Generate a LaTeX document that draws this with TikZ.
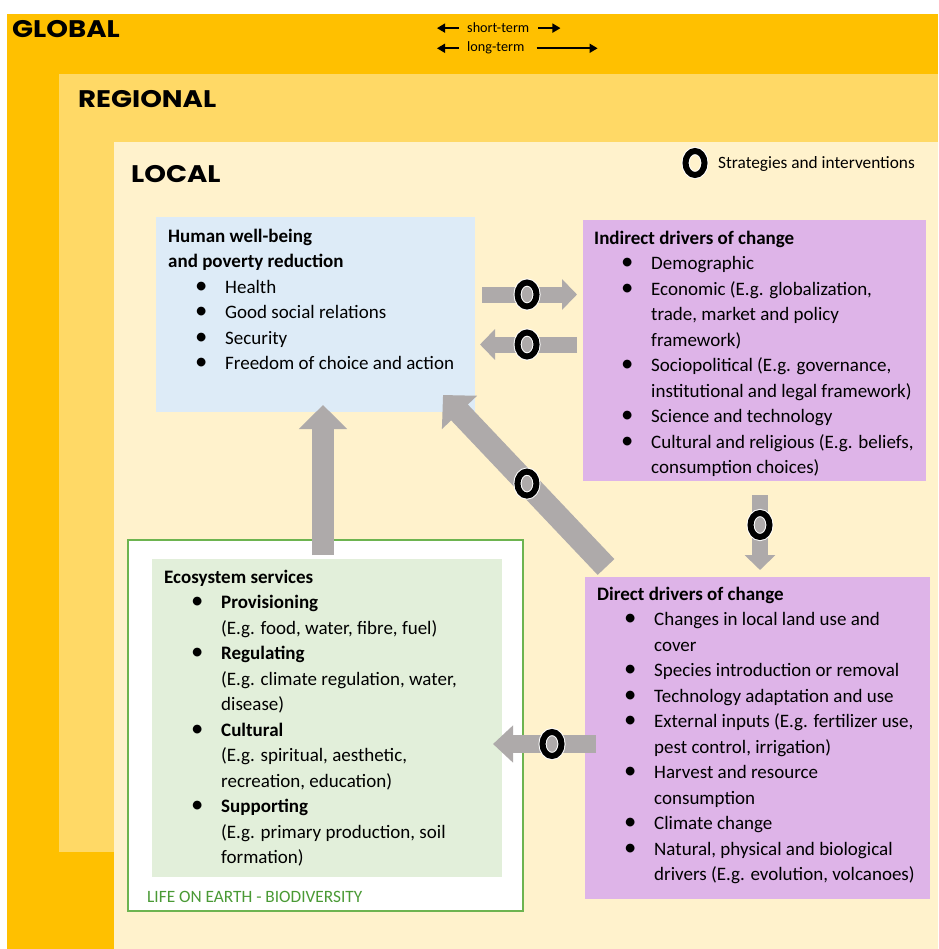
\documentclass[tikz,border=0pt]{standalone}
\usepackage{fontspec}
\setmainfont{Carlito}
\newfontfamily\headfont{Poppins}[FakeStretch=1.15]
\usetikzlibrary{arrows.meta}
\usetikzlibrary{calc}

\definecolor{globalc}{HTML}{FFC000}
\definecolor{regionalc}{HTML}{FFD966}
\definecolor{localc}{HTML}{FFF2CC}
\definecolor{wellblue}{HTML}{DDEBF7}
\definecolor{drvpurple}{HTML}{DEB4E8}
\definecolor{ecogreen}{HTML}{E2EFDA}
\definecolor{lifegreen}{HTML}{6DB450}
\definecolor{lifetext}{HTML}{4A9A35}
\definecolor{arrowgray}{HTML}{AEAAAA}

\newcommand{\bitem}{\hspace*{33pt}\makebox[0pt]{\scalebox{1.3}{\textbullet}}\hspace*{24pt}}
\newcommand{\bcont}{\hspace*{57pt}}
\newcommand{\stratring}[1]{%
  \draw[white,line width=8pt] #1 ellipse [x radius=9.5pt,y radius=12pt];
  \draw[black,line width=6pt] #1 ellipse [x radius=9.5pt,y radius=12pt];}

\tikzset{
  box/.style={anchor=north west, inner sep=0pt, outer sep=0pt},
  % multi-line texts are placed by the baseline of their last line
  txt/.style={anchor=base west, align=left, inner sep=0pt, font=\fontsize{19}{25.5}\selectfont},
  labeltxt/.style={anchor=base west, inner sep=0pt, font=\fontsize{17.3}{20}\selectfont},
  smalltxt/.style={anchor=base west, inner sep=0pt, font=\fontsize{14.2}{16}\selectfont},
  levelhead/.style={anchor=base west, inner sep=0pt, font=\headfont\bfseries\fontsize{24}{24}\selectfont},
  sarrow/.style={draw=arrowgray, line width=16pt, -{Triangle[length=15pt,width=30pt]}},
  barrow/.style={draw=arrowgray, line width=22pt, -{Triangle[length=24pt,width=47pt]}},
  tarrow/.style={line width=1.6pt, -{Triangle[length=8pt,width=9pt]}}
}

\begin{document}
\begin{tikzpicture}[x=1pt,y=-1pt]
\useasboundingbox (0,0) rectangle (938,949);
% The three levels
\fill[white] (0,0) rectangle (938,949);
\fill[globalc] (7,14) rectangle (938,949);
\fill[regionalc] (59,74) rectangle (938,852);
\fill[localc] (114,142) rectangle (938,949);
\node[levelhead] (glob) at (12,38) {GLOBAL};
\node[levelhead] (reg) at (78,108) {REGIONAL};
\node[levelhead] (loc) at (131,183) {LOCAL};

% Time scales
\node[smalltxt] (st) at (467,33) {short-term};
\node[smalltxt] (lt) at (467,52) {long-term};
\draw[tarrow] ([shift={(-8,0)}]st.west) -- ++(-22,0);
\draw[tarrow] ([shift={(9,0)}]st.east) -- ++(22,0);
\draw[tarrow] ([shift={(-8,0)}]lt.west) -- ++(-22,0);
\draw[tarrow] ([shift={(12,0)}]lt.east) -- ++(61,0);

% Legend
\stratring{(695,163)}
\node[labeltxt] (legend) at (718,169) {Strategies and interventions};

% The boxes
\node[box, fill=wellblue, minimum width=319pt, minimum height=195pt] (hwb) at (156,217) {};
\node[box, fill=drvpurple, minimum width=343pt, minimum height=261pt] (ind) at (583,220) {};
\node[box, fill=drvpurple, minimum width=345pt, minimum height=322pt] (dir) at (585,577) {};
\node[box, fill=white, draw=lifegreen, line width=1.3pt, minimum width=395pt, minimum height=371pt] (life) at (128,540) {};
\node[box, fill=ecogreen, minimum width=350pt, minimum height=318pt] (eco) at (152,559) {};

% The arrows
\coordinate (r0) at ([shift={(7,-20)}]hwb.east);
\coordinate (r1) at ([shift={(-6,0)}]r0 -| ind.west);
\coordinate (l0) at ([shift={(-6,-6)}]ind.west);
\coordinate (l1) at ([shift={(5,0)}]l0 -| hwb.east);
\coordinate (u0) at ([shift={(-2.5,15)}]life.north);
\coordinate (u1) at ([shift={(0,-7)}]u0 |- hwb.south);
\coordinate (g0) at ([shift={(21,-10)}]dir.north west);
\coordinate (g1) at ([shift={(-32,-17)}]hwb.south east);
\coordinate (d0) at ([shift={(5.5,14)}]ind.south);
\coordinate (d1) at ([shift={(0,-7)}]d0 |- dir.north);
\coordinate (b0) at ([shift={(11,6)}]dir.west);
\coordinate (b1) at ([shift={(-30,0)}]b0 -| life.east);

\draw[sarrow] (r0) -- (r1);
\draw[sarrow] (l0) -- (l1);
\draw[barrow] (u0) -- (u1);
\draw[barrow, line width=23pt] (g0) -- (g1);
\draw[sarrow] (d0) -- (d1);
\draw[sarrow, line width=18pt, -{Triangle[length=20pt,width=36pt]}] (b0) -- (b1);

\stratring{($(r0)!.474!(r1)$)}
\stratring{($(l0)!.515!(l1)$)}
\stratring{($(g0)!.485!(g1)$)}
\stratring{($(d0)!.4!(d1)$)}
\stratring{($(b0)!.427!(b1)$)}

% The texts
\node[txt] (hwbtext) at (168,369.5) {\textbf{Human well-being}\\
\textbf{and poverty reduction}\\
\bitem Health\\
\bitem Good social relations\\
\bitem Security\\
\bitem Freedom of choice and action};

\node[txt] (indtext) at (594,473.5) {\textbf{Indirect drivers of change}\\
\bitem Demographic\\
\bitem Economic (E.g. globalization,\\
\bcont trade, market and policy\\
\bcont framework)\\
\bitem Sociopolitical (E.g. governance,\\
\bcont institutional and legal framework)\\
\bitem Science and technology\\
\bitem Cultural and religious (E.g. beliefs,\\
\bcont consumption choices)};

\node[txt] (dirtext) at (597,880.5) {\textbf{Direct drivers of change}\\
\bitem Changes in local land use and\\
\bcont cover\\
\bitem Species introduction or removal\\
\bitem Technology adaptation and use\\
\bitem External inputs (E.g. fertilizer use,\\
\bcont pest control, irrigation)\\
\bitem Harvest and resource\\
\bcont consumption\\
\bitem Climate change\\
\bitem Natural, physical and biological\\
\bcont drivers (E.g. evolution, volcanoes)};

\node[txt] (ecotext) at (164,863.5) {\textbf{Ecosystem services}\\
\bitem\textbf{Provisioning}\\
\bcont(E.g. food, water, fibre, fuel)\\
\bitem\textbf{Regulating}\\
\bcont(E.g. climate regulation, water,\\
\bcont disease)\\
\bitem\textbf{Cultural}\\
\bcont(E.g. spiritual, aesthetic,\\
\bcont recreation, education)\\
\bitem\textbf{Supporting}\\
\bcont(E.g. primary production, soil\\
\bcont formation)};

\node[labeltxt, text=lifetext] (lifetext) at (147,902) {LIFE ON EARTH - BIODIVERSITY};
\end{tikzpicture}
\end{document}
